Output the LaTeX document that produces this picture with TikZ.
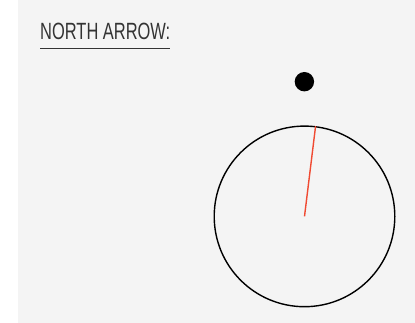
\documentclass[tikz,border=0pt]{standalone}
\usepackage{fontspec}
\usepackage{tikz}
\newfontfamily\titlefont[FakeStretch=0.7]{Liberation Sans}
\definecolor{panelbg}{HTML}{F4F4F4}
\definecolor{needle}{HTML}{F04A32}
\definecolor{ink}{HTML}{333333}

\begin{document}
\begin{tikzpicture}[
  x=1pt, y=1pt,
  title/.style={anchor=base west, inner sep=0pt, text=ink, font=\titlefont\fontsize{23.5}{26}\selectfont},
  dial/.style={draw=black, line width=1.4pt, circle, minimum size=180.6pt, inner sep=0pt},
  dot/.style={fill=black, circle, minimum size=19.4pt, inner sep=0pt},
  hand/.style={draw=needle, line width=1.4pt}
]
\useasboundingbox (0,0) rectangle (415,323);
\fill[panelbg] (18,0) rectangle (415,323);

\node[title] (head) at (40,283) {NORTH ARROW:};
\draw[ink, line width=0.9pt] ([yshift=-8pt]head.base west) -- ([yshift=-8pt]head.base east);

\node[dial] (compass) at (304.5,106.6) {};
\node[dot] (north) at (304.4,241.3) {};
\draw[hand] (compass.center) -- (compass.83.7);
\end{tikzpicture}
\end{document}
